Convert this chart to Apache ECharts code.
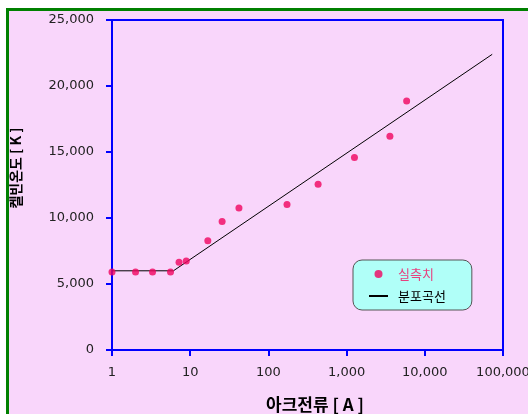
<!DOCTYPE html>
<html>
<head>
<meta charset="utf-8">
<script src="https://cdn.jsdelivr.net/npm/echarts@6/dist/echarts.min.js"></script>
<style>
  html, body { margin: 0; padding: 0; background: #ffffff; }
  #chart { width: 528px; height: 414px; }
</style>
</head>
<body>
<div id="chart"></div>
<script>
// 실측치 (arc current [A], kelvin temperature [K])
var measuredCurrent = [1, 2, 3.3, 5.6, 7.2, 8.9, 16.8, 25.6, 42, 173, 432, 1260, 3580, 5860];
var measuredTemp = [5900, 5900, 5900, 5900, 6650, 6750, 8280, 9740, 10750, 11030, 12560, 14580, 16190, 18860];

// 분포곡선
var curveCurrent = [1, 6.1, 72800];
var curveTemp = [6000, 6000, 22400];

var yTicks = [0, 5000, 10000, 15000, 20000, 25000];
var xTicks = [1, 10, 100, 1000, 10000, 100000];

var voChart = null;

function pairs(xs, ys) {
	return xs.map(function(x, i) { return [x, ys[i]]; });
}

function fmt(v) {
	return Number(v).toLocaleString("en-US");
}

/**
 * 차트를 그립니다.
 */
function drawChart() {
	voChart = echarts.init(document.getElementById("chart"));

	var pink = "#f9d6fb";
	var blue = "#0000ff";
	var labelFont = { color: "#222", fontSize: 13, fontFamily: "DejaVu Sans" };

	var voOption = {
		backgroundColor: "#ffffff",
		animation: false,
		graphic: [
			{
				type: "rect",
				z: -100,
				shape: { x: 7.5, y: 9.5, width: 600, height: 500 },
				style: { fill: pink, stroke: "#008000", lineWidth: 3 }
			},
			{
				type: "text",
				x: 16, y: 168,
				rotation: Math.PI / 2,
				style: {
					text: "켈빈온도 [ K ]",
					x: 0, y: 0,
					align: "center", verticalAlign: "middle",
					fill: "#000",
					font: "bold 14px 'Noto Sans CJK KR'"
				}
			},
			{
				type: "text",
				x: 315, y: 405,
				style: {
					text: "아크전류 [ A ]",
					x: 0, y: 0,
					align: "center", verticalAlign: "middle",
					fill: "#000",
					font: "bold 17px 'Noto Sans CJK KR'"
				}
			}
		],
		grid: {
			left: 112, top: 20, width: 391, height: 330,
			outerBoundsMode: "none",
			containLabel: false,
			show: true,
			borderColor: blue,
			borderWidth: 2,
			backgroundColor: "transparent"
		},
		legend: {
			orient: "vertical",
			left: 353, top: 260,
			padding: [6, 26, 6, 15],
			itemGap: 6,
			itemWidth: 19,
			itemHeight: 8,
			backgroundColor: "#b0fff8",
			borderColor: "#555",
			borderWidth: 1,
			borderRadius: 9,
			textStyle: { fontSize: 13, fontFamily: "Noto Sans CJK KR", lineHeight: 16, padding: [0, 0, 0, 5] },
			data: [
				{ name: "실측치", icon: "circle", textStyle: { color: "#e8407f" } },
				{
					name: "분포곡선",
					itemStyle: { color: "transparent", borderColor: "transparent", borderWidth: 0 },
					textStyle: { color: "#000" }
				}
			]
		},
		xAxis: {
			type: "log",
			logBase: 10,
			min: xTicks[0],
			max: xTicks[xTicks.length - 1],
			axisLine: { show: true, lineStyle: { color: blue, width: 2 } },
			axisTick: { show: true, length: 6, lineStyle: { color: blue, width: 2 } },
			minorTick: { show: false },
			splitLine: { show: false },
			axisLabel: Object.assign({ margin: 16, formatter: fmt }, labelFont)
		},
		yAxis: {
			type: "value",
			min: yTicks[0],
			max: yTicks[yTicks.length - 1],
			interval: 5000,
			axisLine: { show: true, lineStyle: { color: blue, width: 2 } },
			axisTick: { show: true, length: 6, lineStyle: { color: blue, width: 2 } },
			splitLine: { show: false },
			axisLabel: Object.assign({ margin: 18, formatter: fmt }, labelFont)
		},
		series: [
			{
				name: "분포곡선",
				type: "line",
				symbol: "none",
				showSymbol: false,
				lineStyle: { color: "#000", width: 1 },
				itemStyle: { color: "#000" },
				data: pairs(curveCurrent, curveTemp)
			},
			{
				name: "실측치",
				type: "scatter",
				symbolSize: 7,
				clip: false,
				z: 3,
				itemStyle: { color: "#f0045f" },
				data: pairs(measuredCurrent, measuredTemp)
			}
		]
	};

	voChart.setOption(voOption);
}

drawChart();
</script>
</body>
</html>
